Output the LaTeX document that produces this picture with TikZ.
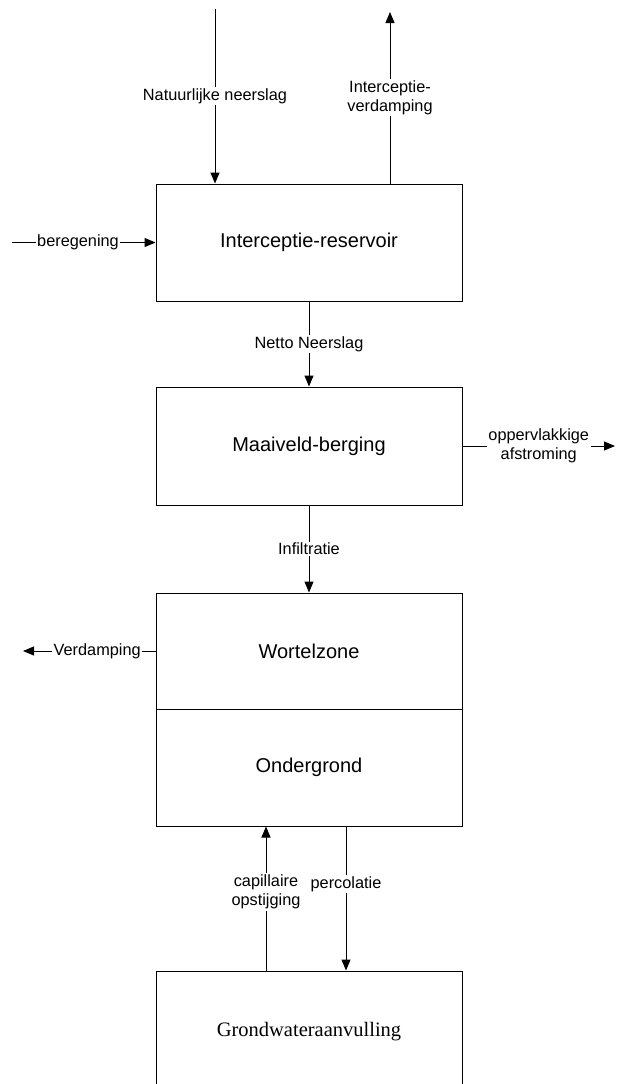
\documentclass[tikz,border=0pt]{standalone}
\usepackage{fontspec}
\setmainfont{Liberation Sans}
\newfontfamily\serifbox{Liberation Serif}
\usetikzlibrary{arrows.meta}
\tikzset{
  store/.style={draw, line width=1pt, minimum width=306pt, inner sep=0pt,
    font=\fontsize{20}{24}\selectfont},
  flow/.style={line width=1pt, -{Triangle[length=11pt,width=9pt]}},
  flowlabel/.style={fill=white, inner sep=1.5pt, align=center,
    font=\fontsize{16.3}{19}\selectfont}
}
\begin{document}
\begin{tikzpicture}[x=1pt, y=-1pt]
    \clip (0,0) rectangle (616,1084);
    \fill[white] (0,0) rectangle (616,1084);
    % reservoirs, top to bottom
    \node[store, minimum height=117pt] (icpt) at (309,242.5) {Interceptie-reservoir};
    \node[store, minimum height=118pt] (maai) at (309,446) {Maaiveld-berging};
    \node[store, minimum height=116pt] (wortel) at (309,651) {Wortelzone};
    \node[store, minimum height=117pt] (onder) at (309,767.5) {Ondergrond};
    \node[store, minimum height=122pt, font=\serifbox\fontsize{20.5}{24}\selectfont] (grond) at (309,1032) {Grondwateraanvulling};
    % free ends and x positions of the vertical flows
    \coordinate (rain) at (215,9);
    \coordinate (evap) at (390,12);
    \coordinate (irr) at (12,242.5);
    \coordinate (runoff) at (615,446);
    \coordinate (et) at (23,651);
    \coordinate (capx) at (266,0);
    \coordinate (percx) at (346,0);
    % fluxes
    \draw[flow] (rain) -- (rain |- icpt.north) node[flowlabel, midway] {Natuurlijke neerslag};
    \draw[flow] (evap |- icpt.north) -- (evap) node[flowlabel, midway] {Interceptie-\\verdamping};
    \draw[flow] (irr) -- (icpt.west) node[flowlabel, pos=0.46] {beregening};
    \draw[flow] (icpt.south) -- (maai.north) node[flowlabel, midway] {Netto Neerslag};
    \draw[flow] (maai.east) -- (runoff) node[flowlabel, midway] {oppervlakkige\\afstroming};
    \draw[flow] (maai.south) -- (wortel.north) node[flowlabel, midway] {Infiltratie};
    \draw[flow] (wortel.west) -- (et) node[flowlabel, pos=0.44] {Verdamping};
    \draw[flow] (grond.north -| capx) -- (onder.south -| capx) node[flowlabel, pos=0.545] {capillaire\\opstijging};
    \draw[flow] (onder.south -| percx) -- (grond.north -| percx) node[flowlabel, pos=0.4] {percolatie};
\end{tikzpicture}
\end{document}
